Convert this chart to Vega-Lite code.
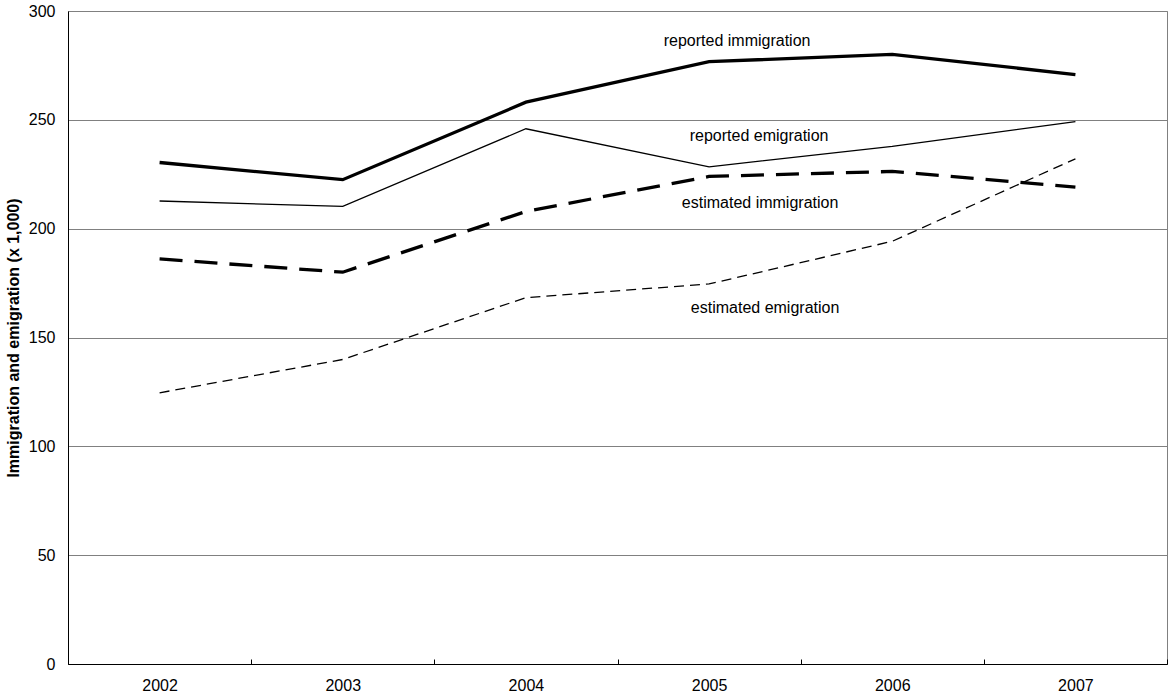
{
  "$schema": "https://vega.github.io/schema/vega-lite/v6.json",
  "width": 1099,
  "height": 653,
  "autosize": "none",
  "padding": {"left": 68, "top": 11, "right": 1, "bottom": 33},
  "background": "white",
  "config": {
    "view": {"stroke": "#808080", "strokeWidth": 1},
    "font": "Liberation Sans"
  },
  "data": {
    "values": [
      {"year": 2002, "series": "reported immigration", "value": 230.4},
      {"year": 2003, "series": "reported immigration", "value": 222.5},
      {"year": 2004, "series": "reported immigration", "value": 258.1},
      {"year": 2005, "series": "reported immigration", "value": 276.7},
      {"year": 2006, "series": "reported immigration", "value": 280.1},
      {"year": 2007, "series": "reported immigration", "value": 270.8},
      {"year": 2002, "series": "reported emigration", "value": 212.7},
      {"year": 2003, "series": "reported emigration", "value": 210.2},
      {"year": 2004, "series": "reported emigration", "value": 245.9},
      {"year": 2005, "series": "reported emigration", "value": 228.4},
      {"year": 2006, "series": "reported emigration", "value": 237.8},
      {"year": 2007, "series": "reported emigration", "value": 249.2},
      {"year": 2002, "series": "estimated immigration", "value": 186.1},
      {"year": 2003, "series": "estimated immigration", "value": 180.0},
      {"year": 2004, "series": "estimated immigration", "value": 207.9},
      {"year": 2005, "series": "estimated immigration", "value": 224.0},
      {"year": 2006, "series": "estimated immigration", "value": 226.3},
      {"year": 2007, "series": "estimated immigration", "value": 219.1},
      {"year": 2002, "series": "estimated emigration", "value": 124.6},
      {"year": 2003, "series": "estimated emigration", "value": 139.9},
      {"year": 2004, "series": "estimated emigration", "value": 168.3},
      {"year": 2005, "series": "estimated emigration", "value": 174.6},
      {"year": 2006, "series": "estimated emigration", "value": 194.2},
      {"year": 2007, "series": "estimated emigration", "value": 232.1}
    ]
  },
  "encoding": {
    "x": {
      "field": "year",
      "type": "ordinal",
      "scale": {"type": "band", "paddingInner": 0, "paddingOuter": 0},
      "axis": {
        "title": null,
        "labelAngle": 0,
        "labelFont": "Liberation Sans",
        "labelFontSize": 16,
        "labelColor": "black",
        "domainColor": "black",
        "domainWidth": 1,
        "tickColor": "black",
        "tickSize": -5,
        "tickBand": "extent",
        "labelPadding": 18,
        "grid": false
      }
    },
    "y": {
      "field": "value",
      "type": "quantitative",
      "scale": {"domain": [0, 300], "nice": false},
      "axis": {
        "title": "Immigration and emigration (x 1,000)",
        "titleFont": "Liberation Sans",
        "titleFontWeight": "bold",
        "titleFontSize": 16,
        "titleColor": "black",
        "titlePadding": 7,
        "values": [0, 50, 100, 150, 200, 250, 300],
        "labelFont": "Liberation Sans",
        "labelFontSize": 16,
        "labelColor": "black",
        "labelPadding": 13,
        "ticks": false,
        "grid": true,
        "gridColor": "#808080",
        "gridWidth": 1,
        "gridOpacity": 1,
        "domainColor": "black",
        "domainWidth": 1
      }
    }
  },
  "layer": [
    {
      "transform": [{"filter": "datum.series === 'estimated emigration'"}],
      "mark": {"type": "line", "color": "black", "strokeWidth": 1.3, "strokeDash": [10, 6]}
    },
    {
      "transform": [{"filter": "datum.series === 'estimated immigration'"}],
      "mark": {"type": "line", "color": "black", "strokeWidth": 3.3, "strokeDash": [23, 12]}
    },
    {
      "transform": [{"filter": "datum.series === 'reported emigration'"}],
      "mark": {"type": "line", "color": "black", "strokeWidth": 1.3}
    },
    {
      "transform": [{"filter": "datum.series === 'reported immigration'"}],
      "mark": {"type": "line", "color": "black", "strokeWidth": 3.3}
    },
    {
      "data": {"values": [{"year": 2005, "value": 283.9, "label": "reported immigration"}]},
      "mark": {"type": "text", "dx": 28, "align": "center", "baseline": "alphabetic", "fontSize": 16, "color": "black", "font": "Liberation Sans"},
      "encoding": {"text": {"field": "label"}}
    },
    {
      "data": {"values": [{"year": 2005, "value": 240.4, "label": "reported emigration"}]},
      "mark": {"type": "text", "dx": 50, "align": "center", "baseline": "alphabetic", "fontSize": 16, "color": "black", "font": "Liberation Sans"},
      "encoding": {"text": {"field": "label"}}
    },
    {
      "data": {"values": [{"year": 2005, "value": 209.3, "label": "estimated immigration"}]},
      "mark": {"type": "text", "dx": 51, "align": "center", "baseline": "alphabetic", "fontSize": 16, "color": "black", "font": "Liberation Sans"},
      "encoding": {"text": {"field": "label"}}
    },
    {
      "data": {"values": [{"year": 2005, "value": 161.1, "label": "estimated emigration"}]},
      "mark": {"type": "text", "dx": 56, "align": "center", "baseline": "alphabetic", "fontSize": 16, "color": "black", "font": "Liberation Sans"},
      "encoding": {"text": {"field": "label"}}
    }
  ]
}
